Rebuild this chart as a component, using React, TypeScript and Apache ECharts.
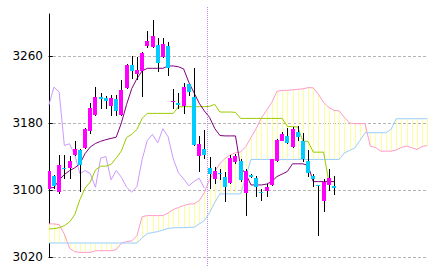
import React, { useEffect, useRef } from "react";
import * as echarts from "echarts";

// ---- data ----
const opens = [3101.3, 3116.4, 3097.3, 3126.8, 3126, 3142, 3147.1, 3149.9, 3170.2, 3189.4, 3211, 3209.3, 3200.1, 3208.1, 3189.4, 3221.3, 3248.8, 3238, 3242, 3271.9, 3270.7, 3273.1, 3259.2, 3271.9, 3205.3, 3203.3, 3200.1, 3226.1, 3210.9, 3140.3, 3149.2, 3126.4, 3113.3, 3120.5, 3116, 3108.5, 3133.1, 3134.4, 3096.1, 3118.4, 3114.8, 3097.8, 3098.5, 3106.1, 3134.3, 3158.7, 3164.2, 3151.3, 3169, 3158.3, 3134, 3117.2, 3105.6, 3087.3, 3106.1, 3105.3];
const closes = [3123.2, 3104.4, 3129.2, 3126.0, 3134, 3148.3, 3129.2, 3172.3, 3197.4, 3211.4, 3208.1, 3206.1, 3209.3, 3194.2, 3218.9, 3248.8, 3242, 3243.2, 3263.2, 3277.9, 3283.8, 3252, 3273.9, 3246, 3206, 3201, 3222.8, 3216.9, 3153.1, 3155.1, 3142, 3119.3, 3123.2, 3119.5, 3103.2, 3137.9, 3140, 3112.1, 3123.2, 3115.2, 3103.2, 3097.3, 3104.1, 3136.4, 3159.1, 3166.3, 3156.1, 3173.1, 3163.5, 3137.2, 3120.5, 3113.3, 3105.0, 3110.1, 3114, 3102.1];
const lows = [3100, 3101.3, 3095.3, 3113.3, 3113.3, 3141, 3097.3, 3149, 3166.3, 3188.2, 3196.2, 3197, 3188.2, 3188.2, 3188, 3220, 3232.1, 3231.2, 3211.4, 3270, 3269.5, 3241.3, 3258, 3236, 3196.2, 3196.2, 3190.2, 3212.1, 3152, 3121.2, 3137.2, 3101.3, 3107.3, 3111.3, 3085.3, 3107, 3131.2, 3110, 3069.4, 3114, 3091.3, 3087.3, 3091.3, 3105.3, 3133, 3158, 3154.3, 3149.5, 3157.9, 3133.1, 3115.2, 3103.2, 3045.5, 3073.3, 3099.2, 3094.2];
const highs = [3124, 3118, 3141.2, 3141.2, 3140.3, 3157.9, 3149.2, 3174.3, 3203.3, 3222.8, 3215.3, 3212, 3212.9, 3212.9, 3230.9, 3250.5, 3260, 3258.9, 3264.5, 3289.8, 3303, 3281, 3281, 3276, 3220.1, 3216.1, 3228.1, 3226.5, 3246, 3165, 3171, 3139.1, 3127.2, 3125.2, 3121.2, 3141.2, 3143.2, 3137.2, 3125.2, 3119.5, 3117.2, 3101.3, 3107.3, 3137.2, 3161.1, 3168.6, 3174.3, 3175.2, 3176.2, 3168.3, 3147.1, 3119.3, 3106, 3113.3, 3125.2, 3116.4];

const tenkan = [3102.4, 3102.9, 3111.9, 3118.4, 3123, 3126.4, 3131.2, 3143.5, 3151.3, 3155.5, 3158.1, 3160, 3161.5, 3163, 3180, 3202, 3221, 3233, 3242, 3245.2, 3245.2, 3245.2, 3245.2, 3248, 3248, 3247, 3244.5, 3228.5, 3216, 3203.6, 3194.3, 3186.6, 3173.4, 3165, 3164.5, 3164.5, 3164.5, 3127, 3119, 3106, 3106, 3106, 3107, 3110, 3116, 3119, 3122, 3131.2, 3131.2, 3131.2, 3129.2, 3110, 3110, 3110, 3110, 3110];
const kijun = [3053.5, 3053.8, 3055, 3057.4, 3061.7, 3070.6, 3088.5, 3102.3, 3109.5, 3123.8, 3128.4, 3128.4, 3130.4, 3138.2, 3146.5, 3162.7, 3166.3, 3172.3, 3185.4, 3191.4, 3191.4, 3191.4, 3191.4, 3191.4, 3191.4, 3199.2, 3199.4, 3199.4, 3199.4, 3199.4, 3199.4, 3199.8, 3202.2, 3193, 3193, 3193, 3192.6, 3185.4, 3185.4, 3185.4, 3185.4, 3185.4, 3185.4, 3185.4, 3185.4, 3185.4, 3175.8, 3175.5, 3175.2, 3158.3, 3157.9, 3145.1, 3145.1, 3145.1, 3110, 3110];
const spanA = [3059.5, 3059.5, 3058.6, 3047.3, 3030.5, 3026.3, 3025.5, 3025.5, 3025.5, 3027.5, 3027.5, 3027.5, 3027.5, 3028.7, 3036.5, 3038.3, 3039.3, 3045.5, 3068.2, 3069.4, 3069.4, 3069.4, 3069.4, 3072.4, 3076.6, 3079, 3081.4, 3083.2, 3083.4, 3087.3, 3096.9, 3112.5, 3122.1, 3131.6, 3137.6, 3141.8, 3144.4, 3145.3, 3151.9, 3162.7, 3173.4, 3186, 3195, 3204.5, 3217.7, 3218.9, 3218.9, 3219.5, 3220.1, 3220.7, 3222.1, 3221.9, 3214.1, 3204.5, 3198.5, 3195, 3194.4, 3186.6, 3180, 3179.1, 3179.1, 3179.1, 3152.3, 3150.7, 3146.3, 3146.3, 3146.3, 3147.7, 3150.7, 3152.3, 3150.4, 3148.3, 3151.9, 3153.1];
const spanB = [3036.7, 3036.7, 3036.7, 3036.7, 3036.7, 3036.7, 3036.7, 3036.7, 3036.7, 3036.7, 3036.7, 3036.7, 3036.7, 3036.7, 3036.7, 3036.7, 3036.7, 3036.7, 3043.1, 3047.9, 3049.1, 3050.3, 3052.1, 3054.2, 3054.7, 3055, 3055, 3055.4, 3055.4, 3059.5, 3063.4, 3073, 3084.9, 3095.3, 3095.3, 3095.3, 3095.3, 3095.3, 3116, 3136.4, 3136.4, 3136.4, 3136.4, 3136.4, 3136.4, 3136.4, 3136.4, 3136.4, 3136.4, 3136.4, 3136.4, 3136.4, 3136.4, 3136.4, 3136.4, 3136.4, 3136.4, 3144.1, 3147.1, 3150.1, 3159.1, 3168.3, 3168.3, 3168.3, 3168.3, 3168.3, 3172.3, 3185, 3185, 3185, 3185, 3185, 3185, 3185];
const LAG = 25; // lagging span is the close plotted 25 bars back
const chikou = closes.slice(LAG);
const markerIndex = 30.6; // dotted vertical marker
const yMin = 3020;
const yMax = 3310;
const yInterval = 80;

const X_MIN = -0.154;
const X_MAX = 73.13;

const UP = "#ff00ff";
const DOWN = "#00ccff";

function buildOption(): any {
  const candleData = opens.map((o, i) => [i, o, closes[i], lows[i], highs[i]]);
  const cloudData = spanA.map((a, i) => [i, a, spanB[i]]);
  const line = (name: string, arr: number[], color: string, z: number) => ({
    name,
    type: "line",
    data: arr.map((v, i) => [i, v]),
    symbol: "none",
    showSymbol: false,
    lineStyle: { color, width: 1 },
    itemStyle: { color },
    z,
    silent: true,
  });
  return {
    animation: false,
    backgroundColor: "#ffffff",
    grid: [
      { left: 48, width: 380, top: 14, height: 243 },
      { left: 48, width: 380, top: 6, height: 260 },
    ],
    xAxis: [
      { type: "value", gridIndex: 0, min: X_MIN, max: X_MAX, show: false },
      { type: "value", gridIndex: 1, min: X_MIN, max: X_MAX, show: false },
    ],
    yAxis: [
      {
        type: "value",
        gridIndex: 0,
        min: yMin,
        max: yMax,
        interval: yInterval,
        axisLine: { show: true, lineStyle: { color: "#000000", width: 1 } },
        axisTick: { show: true, inside: true, length: 4, lineStyle: { color: "#000000" } },
        axisLabel: {
          show: true,
          showMaxLabel: false,
          color: "#000000",
          fontSize: 12,
          fontFamily: "DejaVu Sans",
          margin: 5,
          formatter: (v: number) => String(v),
        },
        splitLine: {
          show: true,
          showMaxLine: false,
          lineStyle: { color: "#b4b4b4", type: [3, 2], width: 1 },
        },
      },
      { type: "value", gridIndex: 1, min: 0, max: 1, show: false },
    ],
    series: [
      {
        name: "cloud",
        type: "custom",
        data: cloudData,
        clip: true,
        z: 1,
        silent: true,
        renderItem: (_params: any, api: any) => {
          const i = api.value(0);
          const pa = api.coord([i, api.value(1)]);
          const pb = api.coord([i, api.value(2)]);
          const x = Math.round(pa[0]) + 0.5;
          return {
            type: "line",
            shape: { x1: x, y1: pa[1], x2: x, y2: pb[1] },
            style: { stroke: "#ffff99", lineWidth: 1 },
          };
        },
      },
      line("spanA", spanA, "#ff99cc", 2),
      line("spanB", spanB, "#99ccff", 2),
      line("chikou", chikou, "#cc99ff", 3),
      line("kijun", kijun, "#99cc00", 3),
      line("tenkan", tenkan, "#800080", 3),
      {
        name: "candles",
        type: "custom",
        data: candleData,
        clip: true,
        z: 5,
        silent: true,
        renderItem: (_params: any, api: any) => {
          const i = api.value(0);
          const o = api.value(1);
          const c = api.value(2);
          const l = api.value(3);
          const h = api.value(4);
          const pO = api.coord([i, o]);
          const pC = api.coord([i, c]);
          const pL = api.coord([i, l]);
          const pH = api.coord([i, h]);
          const cx = Math.round(pO[0]);
          const top = Math.round(Math.min(pO[1], pC[1]));
          const bot = Math.round(Math.max(pO[1], pC[1]));
          const hy = Math.round(pH[1]);
          const ly = Math.round(pL[1]);
          return {
            type: "group",
            children: [
              {
                type: "rect",
                shape: { x: cx, y: hy, width: 1, height: Math.max(1, ly - hy) },
                style: { fill: "#000000" },
              },
              {
                type: "rect",
                shape: { x: cx - 2, y: top, width: 4, height: Math.max(1, bot - top) },
                style: { fill: c > o ? UP : DOWN },
              },
            ],
          };
        },
      },
      {
        name: "marker",
        type: "line",
        xAxisIndex: 1,
        yAxisIndex: 1,
        data: [
          [markerIndex, 0],
          [markerIndex, 1],
        ],
        symbol: "none",
        showSymbol: false,
        lineStyle: { color: "#bb88ee", width: 1, type: [1, 1] },
        z: 4,
        silent: true,
      },
    ],
  };
}

export default function App() {
  const ref = useRef<HTMLDivElement>(null);
  useEffect(() => {
    if (!ref.current) return;
    const chart = echarts.init(ref.current, null, { renderer: "svg" });
    chart.setOption(buildOption());
    return () => chart.dispose();
  }, []);
  return (
    <div
      ref={ref}
      style={{ position: "absolute", left: 0, top: 0, width: 432, height: 271, background: "#fff" }}
    />
  );
}
